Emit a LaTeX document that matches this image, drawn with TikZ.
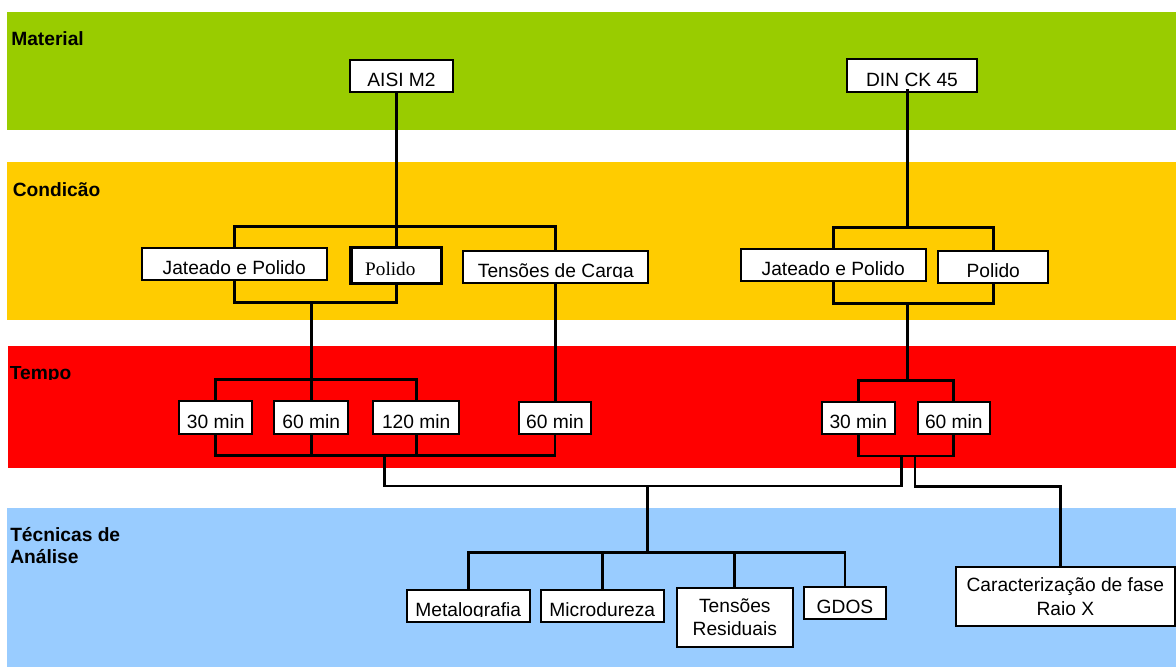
\documentclass[tikz,border=0pt]{standalone}
\usepackage{fontspec}
\setmainfont{Liberation Sans}
\newfontfamily\timesfont{Liberation Serif}
\usepackage{trimclip}
\newcommand{\cutdesc}[1]{\clipbox{0pt {\depth} 0pt 0pt}{#1}}
\definecolor{bandgreen}{HTML}{99CC00}
\definecolor{bandyellow}{HTML}{FFCC00}
\definecolor{bandred}{HTML}{FF0000}
\definecolor{bandblue}{HTML}{99CCFF}
\tikzset{
    lbl/.style={inner sep=0pt, font=\fontsize{14.4}{16.5}\selectfont\bfseries},
    box/.style={draw, fill=white, line width=1.5pt, inner sep=0pt, font=\fontsize{14.4}{17.5}\selectfont},
    onel/.style={box, text height=15.8pt, text depth=0pt},
    twol/.style={box, align=center},
    boxsize/.style 2 args={minimum width=#1*0.75pt, minimum height=#2*0.75pt},
    link/.style={line width=2.2pt}
}
\begin{document}
\begin{tikzpicture}[x=0.75pt,y=-0.75pt]
    \useasboundingbox (0,0) rectangle (1176,667);
    % faixas
    \fill[bandgreen] (7,12) rectangle (1176,130);
    \fill[bandyellow] (7,162) rectangle (1176,320);
    \fill[bandred] (8,346) rectangle (1176,468);
    \fill[bandblue] (7,508) rectangle (1176,667);
    \node[lbl, anchor=base west] (lmat) at (11,45.7) {Material};
    \node[lbl, anchor=base west] (lcond) at (12.5,196) {Condicão};
    \node[lbl, anchor=base west] (ltempo) at (9.5,379.3) {\cutdesc{Tempo}};
    \node[lbl, anchor=west, align=left] (ltec) at (10,546) {Técnicas de\\Análise};
    % material
    \node[onel, boxsize={102.7}{32.3}] (aisi) at (401.5,76.2) {AISI M2};
    \node[onel, boxsize={130.7}{32.7}] (din) at (912,75.7) {DIN CK 45};
    % condicao
    \node[onel, boxsize={185}{31.7}] (jatA) at (234.2,264.2) {Jateado e Polido};
    \node[onel, boxsize={90.7}{36}, line width=2.4pt] (polA) at (396.3,265.3) {\timesfont Polido\hspace*{9pt}};
    \node[onel, boxsize={185}{32.6}] (tenA) at (555.8,267) {\cutdesc{Tensões de Carga}};
    \node[onel, boxsize={185}{31.7}] (jatB) at (833.2,265.2) {Jateado e Polido};
    \node[onel, boxsize={110}{32}] (polB) at (993.2,266.7) {Polido};
    % tempo
    \node[onel, boxsize={73.3}{32.7}] (t30A) at (215.7,417.7) {30 min};
    \node[onel, boxsize={74}{32.7}] (t60A) at (311.3,417.7) {60 min};
    \node[onel, boxsize={85.7}{32.7}] (t120A) at (416.2,417.7) {120 min};
    \node[onel, boxsize={72.3}{32}] (t60C) at (555,418) {60 min};
    \node[onel, boxsize={73.3}{32}] (t30B) at (858.3,418.3) {30 min};
    \node[onel, boxsize={72.3}{32}] (t60B) at (953.8,418.3) {60 min};
    % tecnicas
    \node[onel, boxsize={123.3}{32.3}] (metal) at (468.3,606.2) {\cutdesc{Metalografia}};
    \node[onel, boxsize={122.7}{32.3}] (micro) at (602.3,605.8) {Microdureza};
    \node[twol, boxsize={116.3}{59}] (tres) at (734.8,617.2) {Tensões\\Residuais};
    \node[onel, boxsize={82.7}{32}] (gdos) at (845,603) {GDOS};
    \node[twol, boxsize={219.3}{58.7}] (carac) at (1065.3,596.7) {Caracterização de fase\\Raio X};
    % ligacoes AISI M2
    \draw[link] (aisi.south -| polA.north) -- (polA.north);
    \draw[link] (jatA.north) -- ++(0,-20.6) -| (tenA.north);
    \draw[link] (jatA.south) -- ++(0,21) coordinate (barA) -| (polA.south);
    \draw[link] (barA -| t60A.north) -- (t60A.north);
    \draw[link] (t30A.north) -- ++(0,-20.6) -| (t120A.north);
    \draw[link] (tenA.south) -- (tenA.south |- t60C.north);
    \draw[link] (t30A.south) -- ++(0,20.3) coordinate (barTA) -| (t60C.south);
    \draw[link] (t60A.south) -- (t60A.south |- barTA);
    \draw[link] (t120A.south) -- (t120A.south |- barTA);
    % ligacoes DIN CK 45
    \coordinate (topB) at (907.3,228.3);
    \draw[link] ([yshift=3pt]din.south -| topB) -- (topB);
    \draw[link] (jatB.north) -- ++(0,-21) -| (polB.north);
    \draw[link] (jatB.south) -- ++(0,21.3) coordinate (barB) -| (polB.south);
    \draw[link] (t30B.north) -- ++(0,-20.6) coordinate (barTB) -| (t60B.north);
    \draw[link] (barB -| topB) -- (barTB -| topB);
    \draw[link] (t30B.south) -- ++(0,20.7) -| (t60B.south);
    % tecnicas de analise
    \coordinate (mergeA) at (384.3,454.3);
    \coordinate (splitL) at (901.7,455);
    \coordinate (splitR) at (915,455);
    \coordinate (hubA) at (647.3,486);
    \draw[link] (mergeA) |- (hubA) -| (splitL);
    \draw[link] (metal.north) -- ++(0,-36.7) coordinate (barAn) -| (gdos.north);
    \draw[link] (hubA) -- (hubA |- barAn);
    \draw[link] (barAn -| micro.north) -- (micro.north);
    \draw[link] (barAn -| tres.north) -- (tres.north);
    \draw[link] (splitR) -- ++(0,31.7) -| ([xshift=-3.75pt]carac.north);
\end{tikzpicture}
\end{document}
